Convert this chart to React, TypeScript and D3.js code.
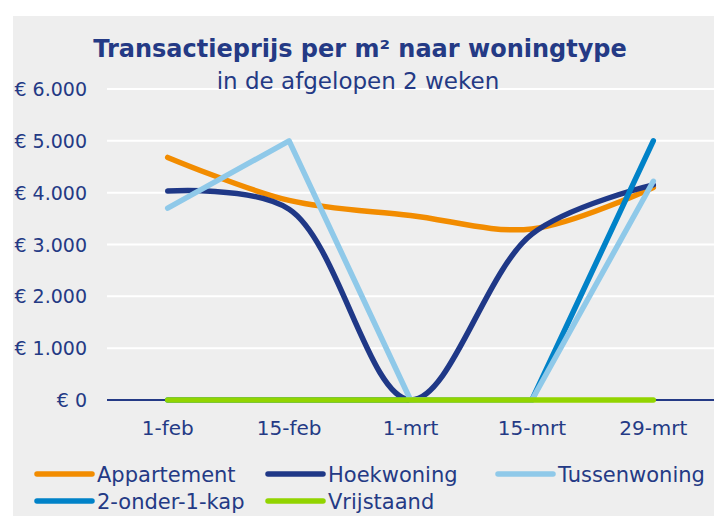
import React from "react";
import * as d3 from "d3";

const categories = ["1-feb", "15-feb", "1-mrt", "15-mrt", "29-mrt"];
const appartement = [4680, 3850, 3560, 3300, 4100];
const hoekwoning = [4030, 3680, 0, 3200, 4150];
const tussenwoning = [3700, 5000, 0, 0, 4220];
const tweeOnder1Kap = [0, 0, 0, 0, 5000];
const vrijstaand = [0, 0, 0, 0, 0];
const yTicks = [0, 1000, 2000, 3000, 4000, 5000, 6000];

const seriesNames = ["Appartement", "Hoekwoning", "Tussenwoning", "2-onder-1-kap", "Vrijstaand"];
const seriesColors = ["#F28C00", "#1F3887", "#8FC9E9", "#0082C8", "#92D400"];
const seriesSmooth = [true, true, false, false, false];
const seriesData = [appartement, hoekwoning, tussenwoning, tweeOnder1Kap, vrijstaand];

const W = 719, H = 525;
const plotLeft = 107, plotRight = 714, plotTop = 89, plotBottom = 400;
const font = "'DejaVu Sans', sans-serif";
const navy = "#243A85";

export default function App() {
  const x = d3.scaleBand<string>().domain(categories).range([plotLeft, plotRight]);
  const y = d3.scaleLinear().domain([0, 6000]).range([plotBottom, plotTop]);
  const cx = (c: string) => (x(c) ?? 0) + x.bandwidth() / 2;

  const order = [0, 1, 3, 2, 4];

  const legendItems = [
    { i: 0, lx: 37, ly: 474 },
    { i: 1, lx: 268, ly: 474 },
    { i: 2, lx: 498, ly: 474 },
    { i: 3, lx: 37, ly: 501 },
    { i: 4, lx: 268, ly: 501 },
  ];

  return (
    <svg width={W} height={H} style={{ position: "absolute", left: 0, top: 0 }}>
      <rect x={0} y={0} width={W} height={H} fill="#ffffff" />
      <rect x={13} y={16} width={701} height={500} fill="#EEEEEE" />
      {yTicks.map((t) =>
        t > 0 ? (
          <line key={"g" + t} x1={plotLeft} x2={plotRight} y1={y(t)} y2={y(t)} stroke="#ffffff" strokeWidth={2} />
        ) : null
      )}
      <text x={360} y={57} textAnchor="middle" fontFamily={font} fontWeight="bold" fontSize={24} fill={navy}>
        Transactieprijs per m² naar woningtype
      </text>
      <text x={358} y={89} textAnchor="middle" fontFamily={font} fontSize={23} fill={navy}>
        in de afgelopen 2 weken
      </text>
      {yTicks.map((t) => (
        <text key={"yl" + t} x={87} y={y(t) + 7} textAnchor="end" fontFamily={font} fontSize={19} fill={navy}>
          {"€ " + d3.format(",")(t).replace(/,/g, ".")}
        </text>
      ))}
      <line x1={plotLeft} x2={plotRight} y1={y(0)} y2={y(0)} stroke={navy} strokeWidth={2} />
      {categories.map((c) => (
        <text key={c} x={cx(c)} y={435} textAnchor="middle" fontFamily={font} fontSize={20} fill={navy}>
          {c}
        </text>
      ))}
      {order.map((i) => {
        const line = d3
          .line<number>()
          .x((_, k) => cx(categories[k]))
          .y((v) => y(v))
          .curve(seriesSmooth[i] ? d3.curveCatmullRom.alpha(0.5) : d3.curveLinear);
        return (
          <path
            key={seriesNames[i]}
            d={line(seriesData[i]) ?? ""}
            fill="none"
            stroke={seriesColors[i]}
            strokeWidth={5.5}
            strokeLinecap="round"
            strokeLinejoin="round"
          />
        );
      })}
      {legendItems.map(({ i, lx, ly }) => (
        <g key={"lg" + i}>
          <line x1={lx} x2={lx + 55} y1={ly} y2={ly} stroke={seriesColors[i]} strokeWidth={5.5} strokeLinecap="round" />
          <text x={lx + 60} y={ly + 7.5} fontFamily={font} fontSize={21} fill={navy}>
            {seriesNames[i]}
          </text>
        </g>
      ))}
    </svg>
  );
}
